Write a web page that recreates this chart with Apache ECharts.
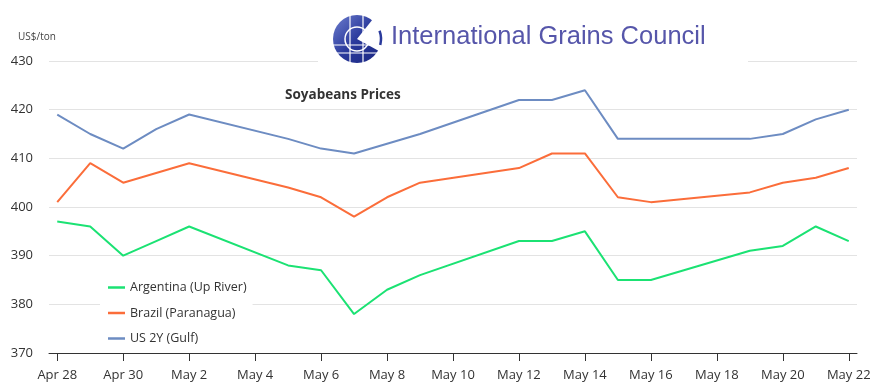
<!DOCTYPE html>
<html>
<head>
<meta charset="utf-8">
<script src="https://cdn.jsdelivr.net/npm/echarts@6/dist/echarts.min.js"></script>
<style>html,body{margin:0;padding:0;background:#fff}#c{width:875px;height:392px}</style>
</head>
<body>
<div id="c"></div>
<script>
// Trading dates (2014)
const dates = ['Apr 28','Apr 29','Apr 30','May 1','May 2','May 5','May 6','May 7','May 8','May 9',
  'May 12','May 13','May 14','May 15','May 16','May 19','May 20','May 21','May 22'];
const argentina = [397,396,390,393,396,388,387,378,383,386,393,393,395,385,385,391,392,396,393];
const brazil    = [401,409,405,407,409,404,402,398,402,405,408,411,411,402,401,403,405,406,408];
const us        = [419,415,412,416,419,414,412,411,413,415,422,422,424,414,414,414,415,418,420];
const tickLabels = ['Apr 28','Apr 30','May 2','May 4','May 6','May 8','May 10','May 12','May 14','May 16','May 18','May 20','May 22'];
const yTicks = [370,380,390,400,410,420,430];

const MONTHS = {Apr:3, May:4};
const base = Date.UTC(2014,3,28);
function dayOffset(s){ const [m,d]=s.split(' '); return (Date.UTC(2014,MONTHS[m],+d)-base)/86400000; }
const xs = dates.map(dayOffset);
const tickXs = tickLabels.map(dayOffset);
const pair = arr => arr.map((v,i)=>[xs[i],v]);

const chart = echarts.init(document.getElementById('c'));
const font = '"Open Sans","Noto Sans",sans-serif';
chart.setOption({
  animation:false,
  backgroundColor:'#fff',
  title:{text:'Soyabeans Prices',left:285,top:88,padding:0,
    textStyle:{fontSize:13.5,fontWeight:'bold',color:'#333',fontFamily:font}},
  legend:{orient:'vertical',left:100,top:278,padding:[3,6,3,8],itemGap:12.5,
    backgroundColor:'#fff',icon:'rect',itemWidth:17,itemHeight:2.5,
    textStyle:{fontSize:12.5,color:'#333',fontFamily:font},
    data:['Argentina (Up River)','Brazil (Paranagua)','US 2Y (Gulf)']},
  grid:{left:49,right:18,top:61,bottom:39,containLabel:false},
  xAxis:{type:'value',min:-0.25,max:24.25,
    axisLine:{lineStyle:{color:'#333',width:1}},
    axisTick:{show:true,length:8,customValues:tickXs,lineStyle:{color:'#333'}},
    axisLabel:{customValues:tickXs,margin:16,fontSize:13,color:'#333',fontFamily:font,
      formatter:v=>{const i=tickXs.indexOf(v);return i>=0?tickLabels[i]:'';}},
    splitLine:{show:false}},
  yAxis:{type:'value',min:yTicks[0],max:yTicks[yTicks.length-1],interval:10,
    axisLine:{show:false},axisTick:{show:false},
    axisLabel:{margin:16,fontSize:13,color:'#333',fontFamily:font},
    splitLine:{lineStyle:{color:'#e3e3e3',width:1}}},
  series:[
    {name:'Argentina (Up River)',type:'line',data:pair(argentina),showSymbol:false,symbol:'none',
      lineStyle:{color:'#1be273',width:2},itemStyle:{color:'#1be273'}},
    {name:'Brazil (Paranagua)',type:'line',data:pair(brazil),showSymbol:false,symbol:'none',
      lineStyle:{color:'#fb6d3a',width:2},itemStyle:{color:'#fb6d3a'}},
    {name:'US 2Y (Gulf)',type:'line',data:pair(us),showSymbol:false,symbol:'none',
      lineStyle:{color:'#6d8cc2',width:2},itemStyle:{color:'#6d8cc2'}}
  ],
  graphic:[
    {type:'text',left:18,top:32,z:100,style:{text:'US$/ton',fontSize:10,fill:'#444',fontFamily:font}},
    {type:'rect',z:100,shape:{x:318,y:0,width:430,height:66},style:{fill:'#fff'}},
    {type:'circle',z:101,shape:{cx:357,cy:39,r:24},
      style:{fill:new echarts.graphic.LinearGradient(0,0,1,1,[{offset:0,color:'#6f7fcf'},{offset:0.5,color:'#2a3a9c'},{offset:1,color:'#1a2680'}])}},
    {type:'sector',z:102,shape:{cx:357,cy:39,r:26,r0:0,startAngle:-0.9,endAngle:0.5},style:{fill:'#fff'}},
    {type:'circle',z:102,shape:{cx:357,cy:39,r:12},style:{fill:'none',stroke:'#fff',lineWidth:1.5}},
    {type:'line',z:102,shape:{x1:333,y1:45,x2:381,y2:45},style:{stroke:'#fff',lineWidth:1.2}},
    {type:'line',z:102,shape:{x1:335,y1:53,x2:379,y2:53},style:{stroke:'#fff',lineWidth:1.2}},
    {type:'line',z:102,shape:{x1:350,y1:15,x2:350,y2:63},style:{stroke:'#fff',lineWidth:1.2}},
    {type:'line',z:102,shape:{x1:363,y1:15,x2:363,y2:63},style:{stroke:'#fff',lineWidth:1.2}},
    {type:'arc',z:102,shape:{cx:357,cy:39,r:24,startAngle:-0.35,endAngle:0.25},style:{stroke:'#2a3a9c',lineWidth:2.5,fill:'none'}},
    {type:'text',z:101,left:391,top:24,style:{text:'International Grains Council',fontSize:25.5,fill:'#5656aa',
      fontFamily:'"Liberation Sans",Arial,sans-serif'}}
  ]
});
</script>
</body>
</html>
